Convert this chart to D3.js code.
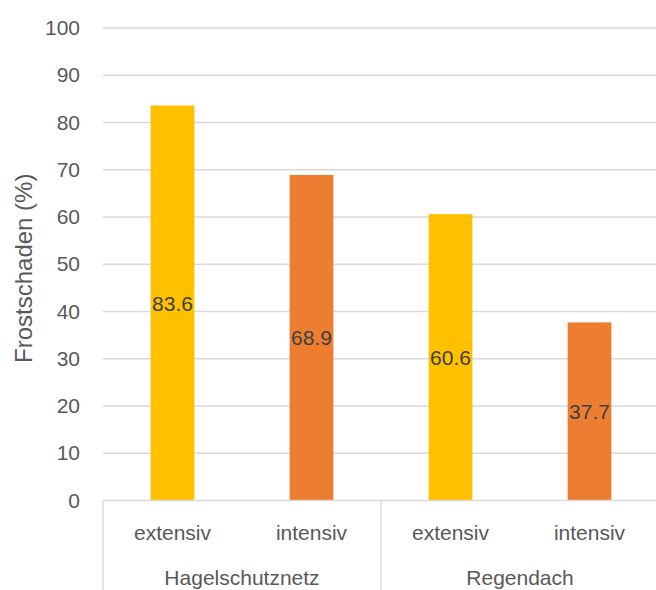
<!DOCTYPE html>
<html><head><meta charset="utf-8">
<script src="https://cdn.jsdelivr.net/npm/d3@7"></script>
<style>
html,body{margin:0;padding:0;background:#fff;overflow:hidden;}
text{font-family:"Liberation Sans",Arial,sans-serif;}
</style></head>
<body>
<script>
const groups = ["Hagelschutznetz", "Regendach"];
const subcategories = ["extensiv", "intensiv"];
const values = [83.6, 68.9, 60.6, 37.7];
const barColors = ["#FFC000", "#ED7D31", "#FFC000", "#ED7D31"];
const yTicks = [0,10,20,30,40,50,60,70,80,90,100];
const yTitle = "Frostschaden (%)";

const W = 656, H = 590;
const plotLeft = 103, plotRight = 659, plotTop = 28, plotBottom = 500.5;

const rows = [];
groups.forEach((g,gi)=>subcategories.forEach((s,si)=>rows.push({key:g+"|"+s, group:g, sub:s, value:values[gi*2+si], color:barColors[gi*2+si]})));

const svg = d3.select("body").append("svg").attr("width",W).attr("height",H);

const x = d3.scaleBand().domain(rows.map(r=>r.key)).range([plotLeft, plotRight]).paddingInner(0.685).paddingOuter(0.3425);
const xg = d3.scaleBand().domain(groups).range([plotLeft, plotRight]);
const y = d3.scaleLinear().domain([0,100]).range([plotBottom, plotTop]);

// gridlines
svg.append("g").selectAll("line").data(yTicks.filter(t=>t>0)).join("line")
  .attr("x1",plotLeft).attr("x2",plotRight)
  .attr("y1",d=>y(d)).attr("y2",d=>y(d))
  .attr("stroke","#D9D9D9").attr("stroke-width",1.3);

// y axis labels
const yAxis = d3.axisLeft(y).tickValues(yTicks).tickSize(0).tickPadding(23);
const ya = svg.append("g").attr("transform",`translate(${plotLeft},0)`).call(yAxis);
ya.select(".domain").remove();
ya.selectAll("text").attr("font-size",21).attr("fill","#595959").attr("font-family","Liberation Sans, Arial, sans-serif");

// bars
svg.append("g").selectAll("rect").data(rows).join("rect")
  .attr("x",d=>x(d.key)).attr("width",x.bandwidth())
  .attr("y",d=>y(d.value)).attr("height",d=>y(0)-y(d.value))
  .attr("fill",d=>d.color);

// data labels (centered in bar)
svg.append("g").selectAll("text").data(rows).join("text")
  .attr("x",d=>x(d.key)+x.bandwidth()/2)
  .attr("y",d=>y(d.value/2))
  .attr("dy","0.36em")
  .attr("text-anchor","middle")
  .attr("font-size",21).attr("fill","#404040")
  .text(d=>d.value.toFixed(1));

// category axis line
svg.append("line").attr("x1",plotLeft).attr("x2",plotRight).attr("y1",plotBottom).attr("y2",plotBottom)
  .attr("stroke","#D9D9D9").attr("stroke-width",1.3);

// group separators
const seps = groups.map(g=>xg(g)).concat([plotRight]);
svg.append("g").selectAll("line").data(seps).join("line")
  .attr("x1",d=>d).attr("x2",d=>d).attr("y1",plotBottom).attr("y2",H)
  .attr("stroke","#D9D9D9").attr("stroke-width",1.3);

// subcategory labels
svg.append("g").selectAll("text").data(rows).join("text")
  .attr("x",d=>x(d.key)+x.bandwidth()/2).attr("y",540)
  .attr("text-anchor","middle").attr("font-size",21).attr("fill","#595959")
  .text(d=>d.sub);

// group labels
svg.append("g").selectAll("text").data(groups).join("text")
  .attr("x",d=>xg(d)+xg.bandwidth()/2).attr("y",585)
  .attr("text-anchor","middle").attr("font-size",21).attr("fill","#595959")
  .text(d=>d);

// y title
svg.append("text").attr("transform",`translate(32,${(plotTop+plotBottom)/2+4}) rotate(-90)`)
  .attr("text-anchor","middle").attr("font-size",24).attr("fill","#595959")
  .text(yTitle);
</script>
</body></html>
